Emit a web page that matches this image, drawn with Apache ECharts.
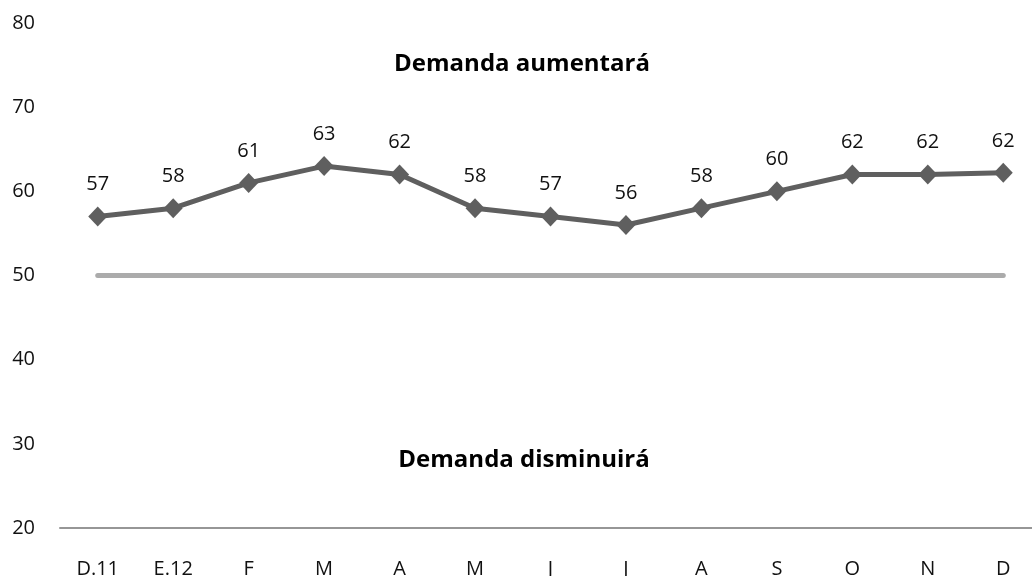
<!DOCTYPE html>
<html>
<head>
<meta charset="utf-8">
<script src="https://cdn.jsdelivr.net/npm/echarts@6/dist/echarts.min.js"></script>
<style>
  html, body { margin: 0; padding: 0; background: #fff; }
  #main { width: 1032px; height: 576px; }
</style>
</head>
<body>
<div id="main"></div>
<script>
// categories and values
var months = ['D.11', 'E.12', 'F', 'M', 'A', 'M', 'J', 'J', 'A', 'S', 'O', 'N', 'D'];
var demand = [57, 58, 61, 63, 62, 58, 57, 56, 58, 60, 62, 62, 62.2];
var neutral = 50;
var yTicks = [20, 30, 40, 50, 60, 70, 80];

var font = '"Open Sans", "Noto Sans", sans-serif';
var chart = echarts.init(document.getElementById('main'));

chart.setOption({
  backgroundColor: '#fff',
  animation: false,
  grid: { left: 60, top: 23, width: 981, height: 505, outerBoundsMode: 'none', containLabel: false },
  xAxis: {
    type: 'category',
    data: months,
    boundaryGap: true,
    axisLine: { lineStyle: { color: '#969696', width: 2 } },
    axisTick: { show: false },
    axisLabel: { color: '#111', fontFamily: font, fontSize: 20, margin: 31 }
  },
  yAxis: {
    type: 'value',
    min: yTicks[0],
    max: yTicks[yTicks.length - 1],
    interval: 10,
    axisLine: { show: false },
    axisTick: { show: false },
    splitLine: { show: false },
    axisLabel: { color: '#111', fontFamily: font, fontSize: 20, margin: 25 }
  },
  graphic: [
    { type: 'text', x: 522, y: 64, style: { text: 'Demanda aumentará', font: 'bold 24px ' + font, fill: '#000', align: 'center', verticalAlign: 'middle' } },
    { type: 'text', x: 524, y: 460, style: { text: 'Demanda disminuirá', font: 'bold 24px ' + font, fill: '#000', align: 'center', verticalAlign: 'middle' } }
  ],
  series: [
    {
      type: 'line',
      data: demand,
      symbol: 'diamond',
      symbolSize: [19, 20],
      lineStyle: { color: '#5f5f5f', width: 5 },
      itemStyle: { color: '#5f5f5f' },
      label: {
        show: true,
        position: 'top',
        distance: 12,
        color: '#111',
        fontFamily: font,
        fontSize: 20,
        formatter: function (p) { return Math.round(p.value); }
      },
      markLine: {
        silent: true,
        symbol: 'none',
        label: { show: false },
        lineStyle: { color: '#ababab', width: 5, type: 'solid', cap: 'round' },
        data: [[
          { coord: [0, neutral] },
          { coord: [months.length - 1, neutral] }
        ]]
      },
      z: 3
    }
  ]
});
</script>
</body>
</html>
